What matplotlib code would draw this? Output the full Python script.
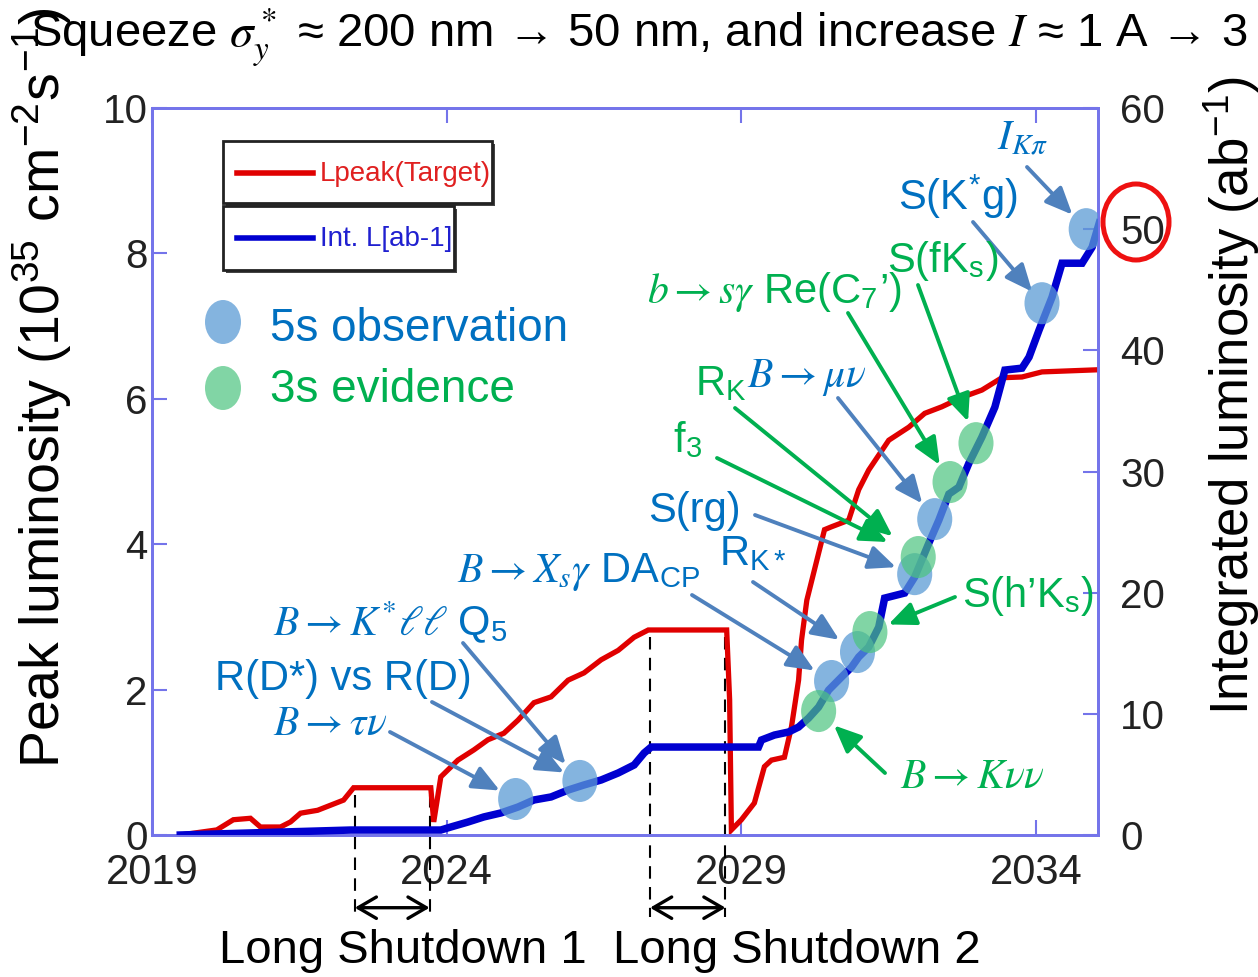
import matplotlib
matplotlib.use("Agg")
import matplotlib.pyplot as plt
from matplotlib.patches import Ellipse, Rectangle
from matplotlib.lines import Line2D
from matplotlib import font_manager

# ---- data ----
lpeak_year = [2019.48, 2020.10, 2020.38, 2020.67, 2020.84, 2021.18, 2021.35, 2021.52,
              2021.81, 2022.03, 2022.25, 2022.42, 2023.73, 2023.78, 2023.90, 2024.19,
              2024.46, 2024.70, 2024.97, 2025.21, 2025.48, 2025.77, 2026.06, 2026.33,
              2026.62, 2026.91, 2027.18, 2027.42, 2028.75, 2028.80, 2028.83, 2029.00,
              2029.22, 2029.39, 2029.51, 2029.73, 2029.85, 2029.97, 2030.02, 2030.11,
              2030.28, 2030.41, 2030.53, 2030.82, 2030.99, 2031.16, 2031.50, 2031.84,
              2032.11, 2032.40, 2032.74, 2033.08, 2033.42, 2033.76, 2034.10, 2035.07]
lpeak = [0.0, 0.07, 0.21, 0.23, 0.11, 0.11, 0.18, 0.30,
         0.34, 0.41, 0.48, 0.65, 0.65, 0.18, 0.80, 1.03,
         1.17, 1.31, 1.40, 1.58, 1.82, 1.90, 2.13, 2.23,
         2.41, 2.54, 2.72, 2.82, 2.82, 1.86, 0.07, 0.21,
         0.44, 0.94, 1.03, 1.07, 1.49, 2.13, 2.68, 3.23,
         3.78, 4.20, 4.24, 4.33, 4.75, 5.02, 5.43, 5.61,
         5.80, 5.89, 6.02, 6.12, 6.29, 6.30, 6.37, 6.40]

intl_year = [2019.48, 2022.37, 2023.90, 2024.07, 2024.36, 2024.63, 2024.92, 2025.21,
             2025.48, 2025.77, 2026.06, 2026.33, 2026.62, 2026.91, 2027.18, 2027.35,
             2027.47, 2029.29, 2029.34, 2029.56, 2029.80, 2029.97, 2030.14, 2030.31,
             2030.48, 2030.70, 2030.87, 2030.99, 2031.16, 2031.33, 2031.43, 2031.77,
             2031.94, 2032.18, 2032.35, 2032.52, 2032.69, 2032.86, 2033.08, 2033.30,
             2033.47, 2033.76, 2033.88, 2034.05, 2034.27, 2034.44, 2034.78, 2034.95,
             2035.07]
intl = [0.0, 0.41, 0.41, 0.66, 1.07, 1.49, 1.82, 2.31,
        2.89, 3.14, 3.71, 4.13, 4.54, 5.12, 5.78, 6.77,
        7.26, 7.26, 7.84, 8.25, 8.50, 8.91, 9.65, 10.56,
        11.96, 13.04, 13.86, 14.69, 15.51, 17.16, 19.55, 19.97,
        21.29, 24.09, 25.99, 28.14, 28.71, 30.69, 32.84, 35.31,
        38.37, 38.53, 39.44, 41.67, 44.39, 47.19, 47.19, 48.51,
        50.50]

# 5 sigma observation / 3 sigma evidence marks (year, ab^-1)
obs_year = [2025.17, 2026.26, 2030.53, 2030.97, 2031.94, 2032.28, 2034.10, 2034.85]
obs_lumi = [2.97, 4.46, 12.71, 15.10, 21.53, 26.07, 43.89, 50.0]
evi_year = [2030.31, 2031.18, 2032.00, 2032.54, 2032.98]
evi_lumi = [10.23, 16.75, 22.94, 29.13, 32.34]

shutdowns = [(2022.44, 2023.71), (2027.45, 2028.73)]
shutdown_labels = ["Long Shutdown 1", "Long Shutdown 2"]

x_ticks = [2019, 2024, 2029, 2034]
left_ticks = [0, 2, 4, 6, 8, 10]
right_ticks = [0, 10, 20, 30, 40, 50, 60]

W, H = 1258, 977
BLUE_TXT = "#0070c0"
GREEN_TXT = "#00b050"
BLUE_ARR = "#4f81bd"
GREEN_ARR = "#00b050"
SPINE = "#7474ea"


def fx(px):
    return px / W


def fy(py):
    return 1 - py / H


def has_font(name):
    try:
        font_manager.findfont(font_manager.FontProperties(family=name), fallback_to_default=False)
        return True
    except ValueError:
        return False


narrow = "Liberation Sans Narrow" if has_font("Liberation Sans Narrow") else "Liberation Sans"

plt.rcParams["mathtext.fontset"] = "stix"
plt.rcParams["font.family"] = ["Liberation Sans", "DejaVu Sans"]

fig = plt.figure(figsize=(W / 100, H / 100), dpi=100)
ax = fig.add_axes([fx(152), fy(835), (1098 - 152) / W, (835 - 108) / H])
ax2 = ax.twinx()

ax.plot(lpeak_year, lpeak, color="#e00000", lw=3.8, solid_joinstyle="miter", zorder=3)
ax2.plot(intl_year, intl, color="#0000d0", lw=5.4, solid_joinstyle="miter", zorder=3)

ax.set_xlim(2019, 2035.05)
ax.set_ylim(0, 10)
ax2.set_ylim(0, 60)
ax.set_xticks(x_ticks)
ax.set_yticks(left_ticks)
ax2.set_yticks(right_ticks)

for a in (ax, ax2):
    for s in a.spines.values():
        s.set_color(SPINE)
        s.set_linewidth(2)
ax.tick_params(axis="x", direction="in", length=11, width=1.5, color=SPINE, top=True,
               labelsize=30, pad=13)
ax.tick_params(axis="y", direction="in", length=11, width=1.5, color=SPINE, labelsize=29, pad=3)
ax2.tick_params(axis="y", direction="in", length=11, width=1.5, color=SPINE, labelsize=29, pad=16)
for lab in ax.get_xticklabels() + ax.get_yticklabels() + ax2.get_yticklabels():
    lab.set_fontfamily(narrow)
    lab.set_color("#222222")

# marks
for x, y in zip(obs_year, obs_lumi):
    ax2.add_patch(Ellipse((x, y), 0.595, 3.47, fc="#5b9bd5", alpha=0.75, ec="none", zorder=4))
for x, y in zip(evi_year, evi_lumi):
    ax2.add_patch(Ellipse((x, y), 0.595, 3.47, fc="#4cc47f", alpha=0.7, ec="none", zorder=4))

# shutdown periods
label_centers = [403, 797]
for (x0, x1), lab, cx in zip(shutdowns, shutdown_labels, label_centers):
    top = max(v for t, v in zip(lpeak_year, lpeak) if x0 - 0.05 <= t <= x1 + 0.05)
    for xv in (x0, x1):
        ax.plot([xv, xv], [top - 0.1, -1.13], color="black", lw=1.5, dashes=(6, 4),
                clip_on=False, zorder=2)
    ax.annotate("", xy=(x1, -1.0), xytext=(x0, -1.0), annotation_clip=False,
                arrowprops=dict(arrowstyle="<->,head_length=0.6,head_width=0.35",
                                mutation_scale=22, lw=2.4, color="black", shrinkA=0, shrinkB=0))
    fig.text(fx(cx), fy(963), lab, ha="center", va="baseline", fontsize=34)

# annotation labels
labels = [
    (r"$B\rightarrow\tau\nu$", 273, 735, BLUE_TXT),
    ("R(D*) vs R(D)", 215, 690, BLUE_TXT),
    (r"$B\rightarrow K^{*}\ell\ell$ Q$_\mathregular{5}$", 273, 636, BLUE_TXT),
    (r"$B\rightarrow X_s\gamma$ DA$_\mathregular{CP}$", 457, 582, BLUE_TXT),
    (r"R$_\mathregular{K*}$", 719, 565, BLUE_TXT),
    ("S(rg)", 648, 522, BLUE_TXT),
    (r"f$_\mathregular{3}$", 673, 452, GREEN_TXT),
    (r"R$_\mathregular{K}$", 695, 395, GREEN_TXT),
    (r"$B\rightarrow\mu\nu$", 747, 387, BLUE_TXT),
    (r"$b\rightarrow s\gamma$ Re(C$_\mathregular{7}$’)", 647, 303, GREEN_TXT),
    (r"S(fK$_\mathregular{s}$)", 887, 272, GREEN_TXT),
    (r"S(K$^\mathregular{*}$g)", 898, 210, BLUE_TXT),
    (r"$I_{K\pi}$", 997, 150, BLUE_TXT),
    (r"S(h’K$_\mathregular{s}$)", 962, 607, GREEN_TXT),
    (r"$B\rightarrow K\nu\nu$", 900, 788, GREEN_TXT),
]
for txt, px, py, c in labels:
    fig.text(fx(px), fy(py), txt, color=c, fontsize=30, va="baseline", ha="left")

# arrows: (series, index, tail in pixels, stop short by px)
arrows = [
    ("obs", 0, (390, 732), 18), ("obs", 1, (432, 702), 18), ("obs", 1, (463, 643), 22),
    ("obs", 2, (692, 595), 20), ("obs", 3, (753, 582), 22), ("obs", 4, (755, 515), 20),
    ("obs", 5, (838, 398), 20), ("obs", 6, (973, 222), 15), ("obs", 7, (1027, 167), 20),
    ("evi", 0, (885, 773), 21), ("evi", 1, (955, 597), 20), ("evi", 2, (717, 458), 34),
    ("evi", 2, (735, 408), 33), ("evi", 3, (848, 313), 20), ("evi", 4, (918, 285), 23),
]
for kind, i, (tx, ty), sh in arrows:
    if kind == "obs":
        xy, col = (obs_year[i], obs_lumi[i]), BLUE_ARR
    else:
        xy, col = (evi_year[i], evi_lumi[i]), GREEN_ARR
    ax2.annotate("", xy=xy, xycoords="data", xytext=(tx, H - ty), textcoords="figure pixels",
                 annotation_clip=False,
                 arrowprops=dict(arrowstyle="-|>,head_length=0.55,head_width=0.24",
                                 mutation_scale=30, color=col, lw=2.8,
                                 shrinkA=0, shrinkB=sh * 0.72))

# line legend boxes
for (x0, y0, x1, y1) in [(223, 141, 492, 203), (223, 206, 454, 270)]:
    fig.add_artist(Rectangle((fx(x0 + 3), fy(y1 + 3)), (x1 - x0) / W, (y1 - y0) / H,
                             transform=fig.transFigure, fc="#444444", ec="none"))
    fig.add_artist(Rectangle((fx(x0), fy(y1)), (x1 - x0) / W, (y1 - y0) / H,
                             transform=fig.transFigure, fc="white", ec="#222222", lw=2))
fig.add_artist(Line2D([fx(237), fx(313)], [fy(173), fy(173)], color="#e00000", lw=4))
fig.add_artist(Line2D([fx(237), fx(313)], [fy(238), fy(238)], color="#0000d0", lw=4))
fig.text(fx(320), fy(174), "Lpeak(Target)", color="#e02020", fontsize=20,
         fontfamily=narrow, va="center")
fig.text(fx(320), fy(239), "Int. L[ab-1]", color="#2020d0", fontsize=20,
         fontfamily=narrow, va="center")

# marker legend
fig.add_artist(Ellipse((fx(223), fy(322)), 36 / W, 44 / H, transform=fig.transFigure,
                       fc="#5b9bd5", alpha=0.75, ec="none"))
fig.add_artist(Ellipse((fx(223), fy(388)), 36 / W, 44 / H, transform=fig.transFigure,
                       fc="#4cc47f", alpha=0.7, ec="none"))
fig.text(fx(270), fy(341), "5s observation", color=BLUE_TXT, fontsize=33, va="baseline")
fig.text(fx(270), fy(402), "3s evidence", color=GREEN_TXT, fontsize=33, va="baseline")

# red circle around 50
fig.add_artist(Ellipse((fx(1136), fy(222)), 66 / W, 76 / H, transform=fig.transFigure,
                       fill=False, ec="#ee1111", lw=3.6))

# axis labels and title
fig.text(fx(42), fy(388),
         r"Peak luminosity (10$^{\mathregular{35}}$ cm$^{\mathregular{-2}}$s$^{\mathregular{-1}}$)",
         rotation=90, ha="center", va="center", fontsize=40)
fig.text(fx(1232), fy(395), r"Integrated luminosity (ab$^{\mathregular{-1}}$)",
         rotation=90, ha="center", va="center", fontsize=38)
fig.text(fx(30), fy(47),
         r"Squeeze $\sigma_y^*$ ≈ 200 nm → 50 nm, and increase $I$ ≈ 1 A → 3 A",
         fontsize=34, va="baseline")

fig.savefig("out.png", dpi=100)
